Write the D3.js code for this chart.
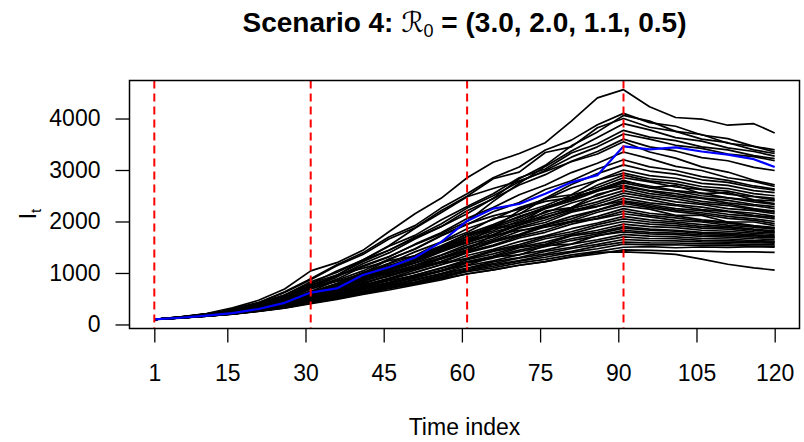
<!DOCTYPE html>
<html>
<head>
<meta charset="utf-8">
<script src="https://cdn.jsdelivr.net/npm/d3@7"></script>
<style>
  body { margin: 0; background: #fff; }
  text { font-family: "Liberation Sans", Arial, Helvetica, sans-serif; fill: #000; }
</style>
</head>
<body>
<div id="chart"></div>
<script>
var timeIdx = [1,6,11,16,21,26,31,36,41,46,51,56,61,66,71,76,81,86,91,96,101,106,111,116,120];

// black runs, I_t at each time point
var runs = [
    [100,150,212,322,470,690,1040,1200,1440,1800,2150,2450,2850,3150,3320,3530,3950,4400,4560,4230,4020,3990,3870,3900,3720],
    [100,145,204,306,428,635,890,1160,1390,1700,1920,2260,2540,2850,3060,3390,3580,3880,4100,3920,3850,3680,3610,3460,3390],
    [100,140,205,283,410,570,830,1010,1250,1440,1680,1900,2150,2450,2830,3090,3470,3740,4060,3950,3750,3690,3520,3460,3350],
    [100,146,203,300,420,620,870,1140,1360,1660,1880,2210,2490,2830,2960,3340,3450,3820,4000,3830,3750,3600,3530,3390,3320],
    [100,138,199,272,390,540,770,930,1140,1320,1550,1760,2000,2390,2740,3070,3370,3630,3900,3780,3630,3560,3430,3360,3270],
    [100,143,197,287,396,572,790,1040,1250,1520,1730,2030,2290,2540,2850,3020,3330,3510,3770,3640,3570,3450,3390,3280,3220],
    [100,139,197,268,385,525,750,955,1220,1440,1700,1950,2260,2500,2770,2990,3250,3450,3700,3600,3480,3420,3310,3260,3180],
    [100,137,193,262,370,500,710,920,1180,1390,1660,1900,2210,2440,2710,2910,3170,3360,3600,3450,3370,3240,3180,3050,2990],
    [100,141,190,272,370,525,715,950,1250,1530,1870,2170,2480,2640,2790,2970,3160,3310,3550,3350,3230,3060,2960,2800,2710],
    [100,136,191,257,362,488,690,880,1120,1310,1560,1780,2060,2270,2520,2710,2950,3130,3350,3220,3070,2990,2850,2780,2680],
    [100,138,185,258,345,480,640,860,1040,1270,1460,1720,1940,2190,2370,2620,2790,3020,3200,3060,2990,2870,2800,2690,2630],
    [100,140,189,268,362,512,690,840,990,1150,1290,1460,1600,1880,2210,2450,2720,2930,3100,2980,2920,2810,2760,2660,2610],
    [100,134,186,246,340,452,630,800,1010,1190,1410,1600,1860,2040,2270,2430,2650,2800,3000,2890,2840,2740,2700,2600,2560],
    [100,136,180,248,326,450,590,790,960,1180,1340,1590,1790,2060,2140,2450,2520,2800,2940,2830,2780,2680,2640,2540,2500],
    [100,138,184,256,340,474,650,730,840,1000,1120,1300,1450,1740,1970,2260,2460,2710,2900,2790,2730,2630,2590,2490,2450],
    [100,132,182,238,326,430,585,750,950,1120,1330,1510,1760,1940,2150,2310,2510,2660,2850,2770,2670,2620,2530,2480,2420],
    [100,137,180,248,332,440,610,760,950,1100,1300,1480,1710,1890,2100,2260,2460,2610,2800,2660,2700,2540,2560,2420,2400],
    [100,131,180,234,318,418,565,740,910,1110,1280,1510,1710,1920,2080,2280,2430,2620,2780,2690,2600,2550,2460,2410,2350],
    [100,138,183,252,334,460,615,785,940,1125,1280,1490,1670,1880,2040,2250,2400,2590,2750,2650,2590,2500,2460,2380,2330],
    [100,135,178,243,320,436,575,770,990,1260,1470,1730,1950,2110,2240,2390,2470,2600,2700,2600,2540,2460,2410,2330,2290],
    [100,130,176,229,310,405,545,700,890,1050,1240,1420,1650,1820,2010,2170,2360,2500,2680,2590,2500,2450,2360,2310,2250],
    [100,134,184,243,334,442,595,760,910,1090,1230,1440,1610,1860,1930,2200,2270,2530,2650,2540,2480,2390,2340,2250,2200],
    [100,134,176,239,313,424,555,720,875,1060,1200,1410,1590,1790,1940,2130,2270,2450,2600,2500,2440,2350,2310,2230,2180],
    [100,141,200,283,400,566,800,960,1090,1240,1330,1470,1590,1745,1930,2070,2250,2380,2550,2470,2380,2330,2250,2210,2150],
    [100,133,181,240,326,430,585,720,885,1025,1190,1350,1550,1700,1890,2030,2200,2340,2500,2420,2330,2280,2200,2160,2100],
    [100,133,174,234,306,410,535,690,840,1010,1150,1340,1510,1660,1870,1980,2180,2290,2450,2360,2310,2230,2190,2120,2080],
    [100,130,172,222,294,380,505,690,890,1090,1330,1530,1750,1860,1980,2090,2220,2300,2400,2330,2250,2210,2140,2100,2050],
    [100,135,177,240,314,424,565,695,850,985,1150,1295,1490,1630,1810,1940,2100,2220,2380,2300,2220,2170,2100,2050,2000],
    [100,130,175,226,303,392,515,665,800,965,1095,1285,1440,1620,1750,1930,2050,2220,2350,2270,2190,2140,2060,2020,1960],
    [100,132,170,226,290,385,495,645,785,950,1085,1270,1430,1600,1730,1900,2010,2180,2300,2240,2120,2120,1990,1990,1920],
    [100,131,177,230,310,405,545,665,815,935,1090,1225,1410,1540,1710,1830,1990,2100,2250,2160,2110,2030,1990,1920,1880],
    [100,129,170,217,286,366,485,610,765,895,1055,1200,1390,1520,1680,1790,1950,2060,2200,2120,2070,2010,1970,1910,1870],
    [100,132,173,222,295,380,505,700,860,1070,1250,1470,1650,1730,1830,1890,1990,2050,2150,2090,2020,1990,1930,1890,1850],
    [100,128,167,213,280,355,465,590,735,865,1015,1160,1340,1460,1610,1720,1860,1970,2100,2030,1990,1940,1900,1850,1820],
    [100,133,171,230,298,398,515,640,755,890,1005,1160,1290,1440,1550,1700,1800,1940,2050,1990,1960,1900,1880,1830,1800],
    [100,139,193,269,374,519,720,840,910,1020,1090,1200,1270,1420,1520,1665,1760,1895,2000,1950,1920,1870,1850,1800,1780],
    [100,128,166,210,275,348,455,565,705,820,960,1090,1260,1370,1505,1600,1735,1830,1950,1900,1880,1830,1810,1770,1750],
    [100,130,172,225,290,384,495,615,720,850,955,1100,1220,1330,1490,1560,1720,1790,1900,1850,1830,1790,1775,1740,1720],
    [100,130,165,216,275,360,465,565,695,800,935,1050,1210,1315,1445,1540,1665,1760,1870,1830,1810,1770,1750,1720,1700],
    [100,127,165,208,270,342,445,545,675,780,915,1030,1190,1290,1415,1510,1630,1720,1830,1790,1775,1740,1725,1695,1680],
    [100,131,168,220,282,371,475,585,685,805,900,1040,1150,1310,1350,1530,1560,1730,1800,1760,1745,1710,1695,1665,1650],
    [100,126,164,205,266,335,435,530,650,755,875,990,1140,1235,1355,1445,1560,1645,1750,1715,1700,1670,1660,1630,1620],
    [100,129,167,211,275,348,445,550,645,760,855,985,1095,1215,1300,1420,1500,1610,1700,1670,1665,1635,1630,1605,1600],
    [100,126,162,203,262,328,425,530,610,750,820,970,1085,1180,1290,1370,1475,1555,1650,1630,1625,1605,1600,1585,1580],
    [100,128,163,212,266,346,435,535,625,735,825,945,1055,1160,1240,1345,1420,1520,1600,1585,1582,1565,1568,1550,1550],
    [100,126,161,200,258,322,415,500,610,700,810,915,1045,1130,1230,1305,1400,1470,1560,1545,1548,1530,1535,1520,1520],
    [100,127,164,206,266,335,425,520,610,710,800,910,1025,1100,1195,1265,1350,1420,1500,1510,1490,1505,1495,1510,1500],
    [100,125,160,198,254,315,405,485,585,670,770,865,985,1060,1150,1220,1305,1370,1450,1440,1425,1425,1410,1410,1400],
    [100,127,161,205,260,330,420,500,600,700,790,890,980,1060,1150,1220,1320,1400,1410,1390,1360,1270,1170,1100,1055]
];

// the highlighted run (blue)
var blueRun = [100,130,170,220,300,420,620,700,960,1110,1300,1600,2010,2250,2340,2540,2760,2900,3460,3400,3440,3360,3300,3210,3060];

var changeTimes = [1, 31, 61, 91];
var xTickVals = [1, 15, 30, 45, 60, 75, 90, 105, 120];
var yTickVals = [0, 1000, 2000, 3000, 4000];

(function() {
    var width = 804,
        height = 442;
    var box = {left: 129.5, right: 799.5, top: 80.5, bottom: 328.5};
    var fontSize = 23;

    var svg = d3.select("#chart")
        .append("svg")
        .attr("width", width)
        .attr("height", height)
        .style("background", "#fff");

    // R style axis ranges: data range padded by 4%
    var allVals = d3.merge(runs.concat([blueRun]));
    var yLo = d3.min(allVals), yHi = d3.max(allVals);
    var yPad = (yHi - yLo) * 0.04;
    var xLo = d3.min(timeIdx), xHi = d3.max(timeIdx);
    var xPad = (xHi - xLo) * 0.04;

    var x = d3.scaleLinear().domain([xLo - xPad, xHi + xPad]).range([box.left, box.right]);
    var y = d3.scaleLinear().domain([yLo - yPad, yHi + yPad]).range([box.bottom, box.top]);

    svg.append("clipPath").attr("id", "plotClip")
        .append("rect")
        .attr("x", box.left).attr("y", box.top)
        .attr("width", box.right - box.left).attr("height", box.bottom - box.top);

    var line = d3.line()
        .x(function(d, i) { return x(timeIdx[i]); })
        .y(function(d) { return y(d); });

    var plot = svg.append("g").attr("clip-path", "url(#plotClip)");

    plot.selectAll("path.run")
        .data(runs)
        .enter().append("path")
        .attr("class", "run")
        .attr("d", line)
        .attr("fill", "none")
        .attr("stroke", "#000")
        .attr("stroke-width", 1.7)
        .attr("stroke-linejoin", "round");

    plot.append("path")
        .datum(blueRun)
        .attr("d", line)
        .attr("fill", "none")
        .attr("stroke", "#0000ff")
        .attr("stroke-width", 2.2)
        .attr("stroke-linejoin", "round");

    plot.selectAll("line.cp")
        .data(changeTimes)
        .enter().append("line")
        .attr("class", "cp")
        .attr("x1", function(d) { return x(d); })
        .attr("x2", function(d) { return x(d); })
        .attr("y1", box.top)
        .attr("y2", box.bottom)
        .attr("stroke", "#ff0000")
        .attr("stroke-width", 2)
        .attr("stroke-dasharray", "8,5");

    svg.append("rect")
        .attr("x", box.left).attr("y", box.top)
        .attr("width", box.right - box.left).attr("height", box.bottom - box.top)
        .attr("fill", "none")
        .attr("stroke", "#000")
        .attr("stroke-width", 1.5);

    // axes
    var yAxis = svg.append("g")
        .attr("transform", "translate(" + box.left + ",0)")
        .call(d3.axisLeft(y).tickValues(yTickVals).tickSize(14).tickPadding(15).tickFormat(d3.format("d")));
    yAxis.select(".domain").remove();

    var xAxis = svg.append("g")
        .attr("transform", "translate(0," + box.bottom + ")")
        .call(d3.axisBottom(x).tickValues(xTickVals).tickSize(14).tickFormat(d3.format("d")));
    xAxis.select(".domain").remove();
    xAxis.selectAll("text").attr("y", 52).attr("dy", 0);

    svg.selectAll(".tick line").attr("stroke", "#000").attr("stroke-width", 1.3);
    svg.selectAll(".tick text")
        .attr("font-family", "'Liberation Sans', Arial, Helvetica, sans-serif")
        .attr("font-size", fontSize)
        .attr("fill", "#000");

    // title
    var title = svg.append("text")
        .attr("x", (box.left + box.right) / 2)
        .attr("y", 32)
        .attr("text-anchor", "middle")
        .attr("font-size", 28)
        .attr("font-weight", "bold");
    title.append("tspan").text("Scenario 4: ");
    title.append("tspan").attr("font-weight", "normal").attr("font-family", "'DejaVu Sans', serif").attr("font-style", "italic").text("\u211B");
    title.append("tspan").attr("font-weight", "normal").attr("font-size", 18).attr("dy", 5).text("0");
    title.append("tspan").attr("dy", -5).text(" = (3.0, 2.0, 1.1, 0.5)");

    // axis titles
    svg.append("text")
        .attr("x", (box.left + box.right) / 2)
        .attr("y", 435)
        .attr("text-anchor", "middle")
        .attr("font-size", fontSize)
        .text("Time index");

    var yl = svg.append("text")
        .attr("transform", "translate(36,214) rotate(-90)")
        .attr("text-anchor", "middle")
        .attr("font-size", fontSize);
    yl.append("tspan").text("I");
    yl.append("tspan").attr("font-size", 15).attr("dy", 5).text("t");
})();
</script>
</body>
</html>
